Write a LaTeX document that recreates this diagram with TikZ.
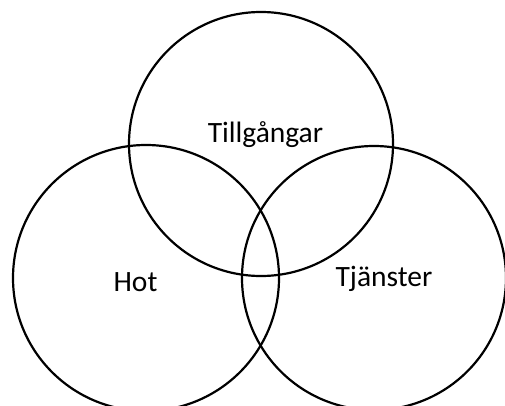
\documentclass[tikz,border=0pt]{standalone}
\usepackage{fontspec}
\setmainfont{Carlito}
\begin{document}
\begin{tikzpicture}[x=1pt,y=1pt,
  venn/.style={circle,draw=black,line width=2.2pt,inner sep=0pt,outer sep=0pt},
  lbl/.style={anchor=base,inner sep=0pt,font=\fontsize{29.5}{34}\selectfont}]
\useasboundingbox (0,0) rectangle (505,405);
\clip (0,0) rectangle (505,405);
\node[venn,minimum size=264pt] (ctop) at (261,261) {};
\node[venn,minimum size=266pt] (cleft) at (146,127) {};
\node[venn,minimum size=264pt] (cright) at (374,127) {};
\node[lbl] (ltop) at (265.5,263) {Tillgångar};
\node[lbl] (lleft) at (135.5,114) {Hot};
\node[lbl] (lright) at (384,119) {Tjänster};
\end{tikzpicture}
\end{document}
